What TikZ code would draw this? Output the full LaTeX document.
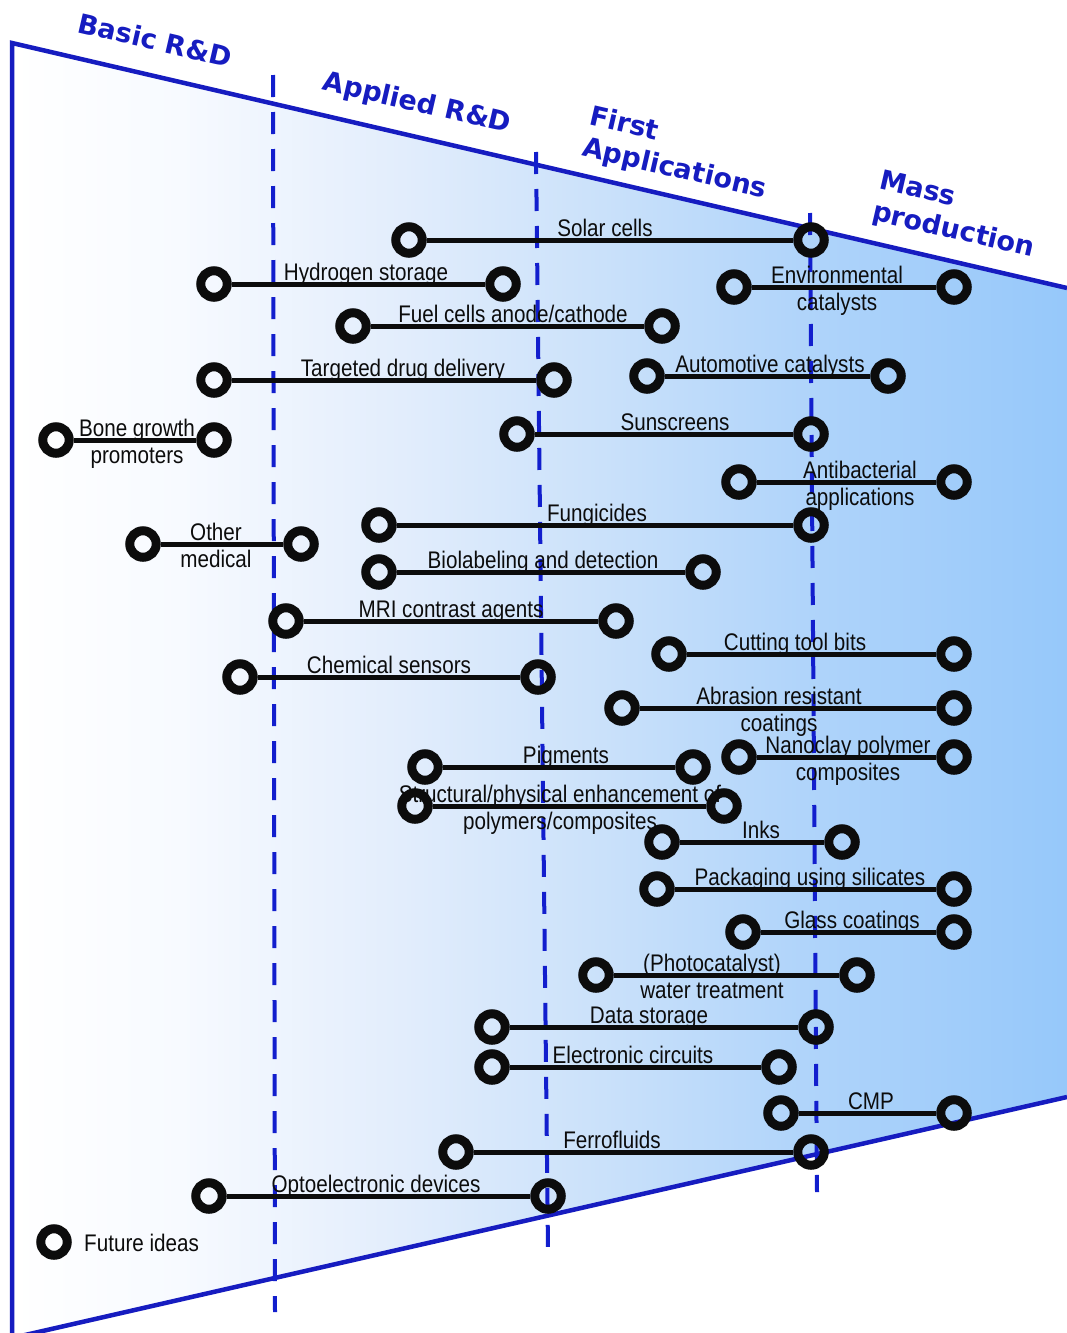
\documentclass[tikz,border=0pt]{standalone}
\usepackage{fontspec}
\setmainfont{Liberation Sans}
\newfontfamily\labfont[FakeStretch=0.86]{Liberation Sans}
\newfontfamily\phasefont{DejaVu Sans}
\definecolor{edgeblue}{RGB}{22,28,192}
\definecolor{dashblue}{RGB}{18,30,205}
\definecolor{inkblack}{RGB}{12,12,12}
% background gradient: white on the left, light blue on the right
\pgfdeclarehorizontalshading{stageshade}{100bp}{%
  color(0bp)=(white);
  color(25bp)=(white);
  color(33bp)=(rgb,255:red,247;green,250;blue,255);
  color(43.5bp)=(rgb,255:red,226;green,237;blue,252);
  color(53bp)=(rgb,255:red,202;green,225;blue,250);
  color(62.5bp)=(rgb,255:red,176;green,212;blue,250);
  color(75bp)=(rgb,255:red,150;green,200;blue,250);
  color(100bp)=(rgb,255:red,150;green,200;blue,250)}
\tikzset{
  dot/.style={circle, draw=inkblack, line width=9pt, inner sep=0pt, minimum size=26.5pt},
  conn/.style={draw=inkblack, line width=5pt},
  lbl/.style={font=\labfont\fontsize{24}{26.5}\selectfont, inner sep=0pt, align=center, text=inkblack},
  phase/.style={font=\phasefont\bfseries\fontsize{27}{32}\selectfont, text=edgeblue, inner sep=0pt, align=left, rotate=-13},
  stagedash/.style={draw=dashblue, line width=4pt, dash pattern=on 22pt off 15pt},
  outline/.style={draw=edgeblue, line width=4.5pt, line join=miter}
}
% one technology with a one-line label: id, left x, right x, y, label x, label text
\newcommand\techline[6]{%
  \node[lbl, anchor=base] (t#1) at (#5,#4-3.5) {#6};
  \node[dot] (l#1) at (#2,#4) {};
  \node[dot] (r#1) at (#3,#4) {};
  \draw[conn] (l#1) -- (r#1);}
% the same with a two-line label whose first line sits on the bar
\newcommand\techlinetwo[6]{%
  \node[lbl, anchor=base] (t#1) at (#5,#4+23) {#6};
  \node[dot] (l#1) at (#2,#4) {};
  \node[dot] (r#1) at (#3,#4) {};
  \draw[conn] (l#1) -- (r#1);}
\begin{document}
\begin{tikzpicture}[x=1pt,y=-1pt]
\useasboundingbox (0,0) rectangle (1067,1333);
\begin{scope}
  \clip (0,0) rectangle (1067,1333);
  \shade[shading=stageshade] (12,43) -- (1067,288) -- (1067,1097) -- (12,1338) -- cycle;
  \draw[outline] (1067,288) -- (12,43) -- (12,1338) -- (1067,1097);
\end{scope}

% stage boundaries
\coordinate (d1t) at (273,75);   \coordinate (d1b) at (275,1312);
\coordinate (d2t) at (536,152);  \coordinate (d2b) at (548,1250);
\coordinate (d3t) at (810,213);  \coordinate (d3b) at (817,1192);
\draw[stagedash] (d1t) -- (d1b);
\draw[stagedash] (d2t) -- (d2b);
\draw[stagedash] (d3t) -- (d3b);

% stage titles
\node[phase] (basic) at (155,40) {Basic R\&D};
\node[phase] (applied) at (417,104) {Applied R\&D};
\node[phase] (first) at (678,154) {First\\Applications};
\node[phase] (mass) at (957,216) {Mass\\production};

% technologies
\techline{1}{409}{811}{240}{605}{Solar cells}
\techline{2}{214}{503}{284}{366}{Hydrogen storage}
\techlinetwo{3}{734}{954}{287}{837}{Environmental\\catalysts}
\techline{4}{353}{662}{326}{513}{Fuel cells anode/cathode}
\techline{5}{214}{554}{380}{403}{Targeted drug delivery}
\techline{6}{647}{888}{376}{770}{Automotive catalysts}
\techlinetwo{7}{56}{214}{440}{137}{Bone growth\\promoters}
\techline{8}{517}{811}{434}{675}{Sunscreens}
\techlinetwo{9}{739}{954}{482}{860}{Antibacterial\\applications}
\techline{10}{379}{811}{525}{597}{Fungicides}
\techlinetwo{11}{143}{301}{544}{216}{Other\\medical}
\techline{12}{379}{703}{572}{543}{Biolabeling and detection}
\techline{13}{286}{616}{621}{451}{MRI contrast agents}
\techline{14}{669}{954}{654}{795}{Cutting tool bits}
\techline{15}{240}{538}{677}{389}{Chemical sensors}
\techlinetwo{16}{622}{954}{708}{779}{Abrasion resistant\\coatings}
\techlinetwo{17}{739}{954}{757}{848}{Nanoclay polymer\\composites}
\techline{18}{425}{693}{767}{566}{Pigments}
\techlinetwo{19}{415}{724}{806}{560}{Structural/physical enhancement of\\polymers/composites}
\techline{20}{662}{842}{842}{761}{Inks}
\techline{21}{657}{954}{889}{810}{Packaging using silicates}
\techline{22}{743}{954}{932}{852}{Glass coatings}
\techlinetwo{23}{596}{857}{975}{712}{(Photocatalyst)\\water treatment}
\techline{24}{492}{816}{1027}{649}{Data storage}
\techline{25}{492}{779}{1067}{633}{Electronic circuits}
\techline{26}{781}{954}{1113}{871}{CMP}
\techline{27}{456}{811}{1152}{612}{Ferrofluids}
\techline{28}{209}{548}{1196}{376}{Optoelectronic devices}

% legend
\node[dot] (legdot) at (54,1242) {};
\node[lbl, anchor=west] (legtext) at (84,1243) {Future ideas};
\end{tikzpicture}
\end{document}
